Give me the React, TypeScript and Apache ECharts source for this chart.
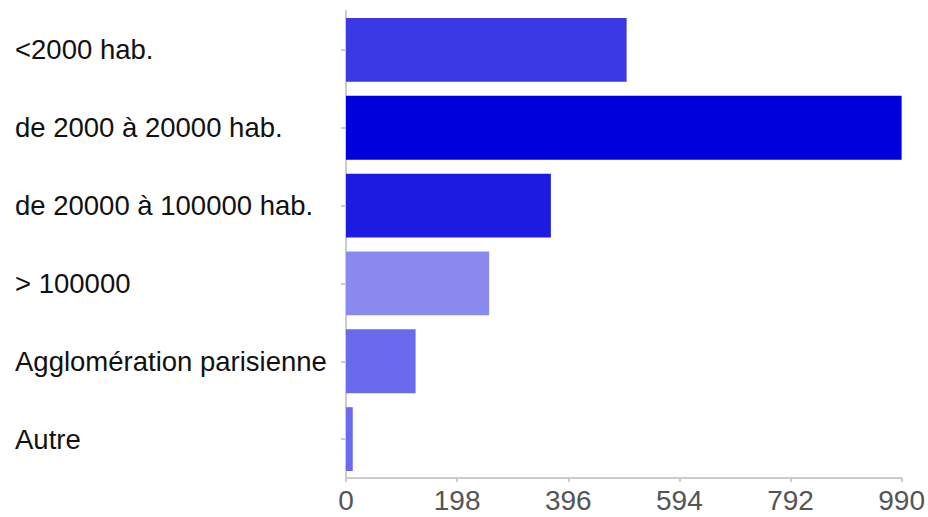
import React, { useEffect, useRef } from "react";
import * as echarts from "echarts";

const categories = [
  "<2000 hab.",
  "de 2000 à 20000 hab.",
  "de 20000 à 100000 hab.",
  "> 100000",
  "Agglomération parisienne",
  "Autre",
];
const values = [500, 990, 365, 255, 124, 12];
const barColors = ["#3b39e5", "#0000dd", "#1d1be1", "#8a89ef", "#6b6aee", "#6a69f0"];
const xMax = 990;
const xInterval = 198;

export default function App() {
  const ref = useRef<HTMLDivElement>(null);
  useEffect(() => {
    if (!ref.current) return;
    const chart = echarts.init(ref.current, undefined, { renderer: "svg" });
    chart.setOption({
      animation: false,
      backgroundColor: "#ffffff",
      grid: { left: 346, right: 25, top: 11, bottom: 39, containLabel: false },
      xAxis: {
        type: "value",
        min: 0,
        max: xMax,
        interval: xInterval,
        splitLine: { show: false },
        axisLine: { show: true, lineStyle: { color: "#cccccc", width: 2 } },
        axisTick: { show: true, length: 4, lineStyle: { color: "#cccccc", width: 2 } },
        axisLabel: {
          color: "#555555",
          fontFamily: "Liberation Sans, Arial, sans-serif",
          fontSize: 28,
          margin: 8,
          showMaxLabel: true,
          showMinLabel: true,
        },
      },
      yAxis: {
        type: "category",
        data: categories,
        inverse: true,
        axisLine: { show: true, lineStyle: { color: "#cccccc", width: 2 } },
        axisTick: { show: true, alignWithLabel: true, length: 5, lineStyle: { color: "#cccccc", width: 2 } },
        axisLabel: {
          color: "#111111",
          fontFamily: "Liberation Sans, Arial, sans-serif",
          fontSize: 27.5,
          align: "left",
          margin: 331,
        },
      },
      series: [
        {
          type: "bar",
          barCategoryGap: "18%",
          data: values.map((v, i) => ({ value: v, itemStyle: { color: barColors[i] } })),
        },
      ],
    });
    return () => chart.dispose();
  }, []);
  return (
    <div
      ref={ref}
      style={{ position: "fixed", left: 0, top: 0, width: 928, height: 517 }}
    />
  );
}
